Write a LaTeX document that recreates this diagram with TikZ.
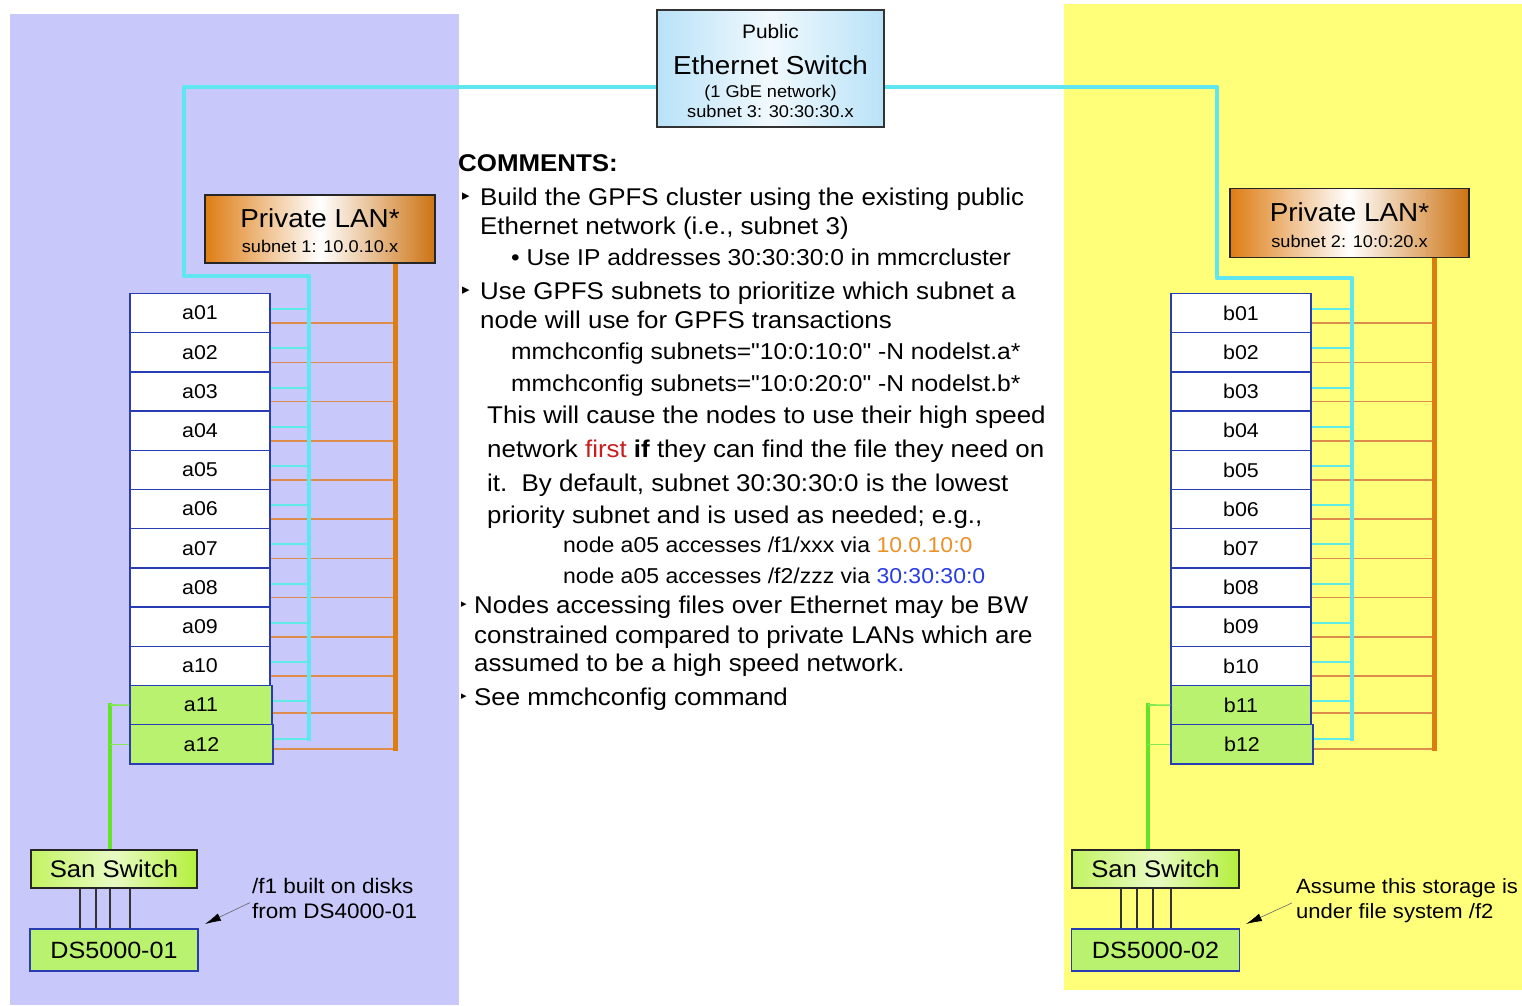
\documentclass[tikz,border=0pt]{standalone}
\usepackage{fontspec}
\setmainfont[FakeStretch=1.07]{Liberation Sans}
\newfontfamily\qfont[FakeStretch=1.07, Ligatures=TeXOff]{Liberation Sans}
\newfontfamily\symfont{DejaVu Sans}
\usetikzlibrary{arrows.meta}
\newcommand{\fsz}[1]{\fontsize{#1}{#1}\selectfont}
\newcommand{\dq}{{\qfont\symbol{34}}}
\definecolor{lav}{RGB}{200,200,250}
\definecolor{yel}{RGB}{255,255,122}
\definecolor{cyb}{RGB}{95,230,240}
\definecolor{cyt}{RGB}{95,235,230}
\definecolor{orb}{RGB}{222,125,15}
\definecolor{ort}{RGB}{222,140,75}
\definecolor{grb}{RGB}{100,228,40}
\definecolor{nodeblue}{RGB}{40,60,180}
\definecolor{lgreen}{RGB}{185,242,110}
\definecolor{pubblue}{RGB}{185,226,248}
\definecolor{lanor}{RGB}{222,125,20}
\definecolor{sangreen}{RGB}{180,240,60}
\definecolor{txtred}{RGB}{200,30,30}
\definecolor{txtor}{RGB}{235,145,40}
\definecolor{txtblue}{RGB}{40,60,225}
\begin{document}
\begin{tikzpicture}[x=1pt,y=-1pt,
  nodebox/.style={draw=nodeblue, line width=1.3pt, fill=white, minimum width=140pt, minimum height=39.2pt, inner sep=0, font=\fsz{20}},
  gnodebox/.style={nodebox, fill=lgreen},
  pubbox/.style={draw=black!80, line width=1.4pt, left color=pubblue, right color=pubblue, middle color=white!80!pubblue, inner sep=0},
  lanbox/.style={draw=black!85, line width=1.4pt, left color=lanor, right color=lanor!92!black, middle color=white, inner sep=0},
  sanbox/.style={draw=black!85, line width=1.4pt, left color=sangreen!80!white, right color=sangreen, middle color=white!70!sangreen, inner sep=0, font=\fsz{24}},
  dsbox/.style={draw=nodeblue, line width=1.3pt, fill=lgreen, inner sep=0, font=\fsz{23.5}},
  cyanbus/.style={draw=cyb, line width=4.5pt, line join=round},
  orangebus/.style={draw=orb, line width=5pt},
  cyanthin/.style={draw=cyt, line width=2pt},
  orangethin/.style={draw=ort, line width=1.6pt},
  greenbus/.style={draw=grb, line width=4pt},
  greenthin/.style={draw=grb!80!white, line width=1.6pt},
  sanline/.style={draw=black!80, line width=1.6pt},
  annarrow/.style={draw=black!60, line width=0.6pt, -{Latex[length=16pt,width=8pt,color=black]}},
  ctext/.style={anchor=base west, inner sep=0, font=\fsz{24.2}},
  itext/.style={anchor=base west, inner sep=0, font=\fsz{23}},
  stext/.style={anchor=base west, inner sep=0, font=\fsz{21.5}},
  anntext/.style={anchor=base west, inner sep=0, font=\fsz{21}},
  btext/.style={anchor=base, inner sep=0},
  bul/.style={inner sep=0, font=\symfont\fsz{15}}
]
\useasboundingbox (0,0) rectangle (1522,1005);
\fill[lav] (10,14) rectangle (459,1005);
\fill[yel] (1064,4) rectangle (1522,990);

% coordinates of bus ends
\coordinate (cL) at (309,741);
\coordinate (oL) at (395,751);
\coordinate (cR) at (1352,741);
\coordinate (oR) at (1434,751);
\coordinate (gL) at (110,705);
\coordinate (gR) at (1148,705);

% public switch
\node[pubbox, minimum width=227pt, minimum height=117pt] (pub) at (770.5,68.5) {};
\node[btext, font=\fsz{19.5}] (pub1) at (770.5,38) {Public};
\node[btext, font=\fsz{26}] (pub2) at (770.5,74) {Ethernet Switch};
\node[btext, font=\fsz{17}] (pub3) at (770.5,97) {(1 GbE network)};
\node[btext, font=\fsz{17}] (pub4) at (770.5,117) {subnet 3: 30:30:30.x};

% private LANs
\node[lanbox, minimum width=230pt, minimum height=68pt] (lanL) at (320,229) {};
\node[btext, font=\fsz{26}] (lanL1) at (320,227) {Private LAN*};
\node[btext, font=\fsz{17}] (lanL2) at (320,252) {subnet 1: 10.0.10.x};
\node[lanbox, minimum width=239pt, minimum height=69pt] (lanR) at (1349.5,223) {};
\node[btext, font=\fsz{26}] (lanR1) at (1349.5,221) {Private LAN*};
\node[btext, font=\fsz{17}] (lanR2) at (1349.5,247) {subnet 2: 10:0:20.x};

% cluster nodes
\foreach \i [count=\k from 0] in {01,02,03,04,05,06,07,08,09,10}{
  \node[nodebox] (a\i) at (200,313.1+39.2*\k) {a\i};
  \node[nodebox] (b\i) at (1241,313.1+39.2*\k) {b\i};
}
\node[gnodebox, minimum width=142pt] (a11) at (201,705.1) {a11};
\node[gnodebox, minimum width=143pt] (a12) at (201.5,744.3) {a12};
\node[gnodebox] (b11) at (1241,705.1) {b11};
\node[gnodebox, minimum width=142pt] (b12) at (1242,744.3) {b12};

% thin drops
\foreach \i/\c/\o in {01/4/10,02/4/10,03/4/10,04/4/10,05/4/10,06/4/10,07/4/10,08/4/10,09/4/10,10/4/10,11/4/8,12/5/4.5}{
  \draw[cyanthin] ([yshift=\c pt]a\i.east) -- ([yshift=\c pt]a\i.east -| cL);
  \draw[orangethin] ([yshift=-\o pt]a\i.east) -- ([yshift=-\o pt]a\i.east -| oL);
  \draw[cyanthin] ([yshift=\c pt]b\i.east) -- ([yshift=\c pt]b\i.east -| cR);
  \draw[orangethin] ([yshift=-\o pt]b\i.east) -- ([yshift=-\o pt]b\i.east -| oR);
}

% buses
\draw[cyanbus] ([yshift=-18.5pt]pub.west) -| (184,276) -| (cL);
\draw[cyanbus] ([yshift=-18.5pt]pub.east) -| (1217,278) -| (cR);
\draw[orangebus] (lanL.south -| oL) -- (oL);
\draw[orangebus] (lanR.south -| oR) -- (oR);

% SAN
\node[sanbox, minimum width=166pt, minimum height=38pt] (ssL) at (114,869) {San Switch};
\node[dsbox, minimum width=168pt, minimum height=42pt] (dsL) at (114,950) {DS5000-01};
\node[sanbox, minimum width=167pt, minimum height=38pt] (ssR) at (1155.5,869) {San Switch};
\node[dsbox, minimum width=168pt, minimum height=42pt] (dsR) at (1155.5,950) {DS5000-02};
\foreach \d in {-34,-18,-4,16}{
  \draw[sanline] ([xshift=\d pt]ssL.south) -- ([xshift=\d pt]dsL.north);
}
\foreach \d in {-34.5,-18.5,-2.5,15.5}{
  \draw[sanline] ([xshift=\d pt]ssR.south) -- ([xshift=\d pt]dsR.north);
}
\draw[greenbus] (ssL.north -| gL) -- ([yshift=2pt]gL);
\draw[greenthin] (gL) -- (a11.west);
\draw[greenthin] (a12.west -| gL) -- (a12.west);
\draw[greenbus] (ssR.north -| gR) -- ([yshift=2pt]gR);
\draw[greenthin] (gR) -- (b11.west);
\draw[greenthin] (b12.west -| gR) -- (b12.west);

% annotations
\node[anntext] (annL1) at (252,893) {/f1 built on disks};
\node[anntext] (annL2) at (252,918) {from DS4000-01};
\coordinate (tipL) at (205,924);
\draw[annarrow] ([xshift=-2pt]annL2.north west) -- (tipL);
\node[anntext, font=\fsz{20.6}] (annR1) at (1296,893) {Assume this storage is};
\node[anntext, font=\fsz{20.6}] (annR2) at (1296,918) {under file system /f2};
\coordinate (tipR) at (1246,924);
\draw[annarrow] ([xshift=-4pt]annR2.north west) -- (tipR);

% comments
\node[ctext, font=\fsz{24.2}\bfseries] (c0) at (458,171) {COMMENTS:};
\node[bul] (bu1) at (466,197) {▸};
\node[ctext] (c1) at (480,205) {Build the GPFS cluster using the existing public};
\node[ctext] (c2) at (480,234) {Ethernet network (i.e., subnet 3)};
\node[itext] (c3) at (511,265) {• Use IP addresses 30:30:30:0 in mmcrcluster};
\node[bul] (bu2) at (466,291) {▸};
\node[ctext] (c4) at (480,299) {Use GPFS subnets to prioritize which subnet a};
\node[ctext] (c5) at (480,328) {node will use for GPFS transactions};
\node[itext] (c6) at (511,359) {mmchconfig subnets=\dq 10:0:10:0\dq{} -N nodelst.a*};
\node[itext] (c7) at (511,391) {mmchconfig subnets=\dq 10:0:20:0\dq{} -N nodelst.b*};
\node[ctext] (c8) at (487,423) {This will cause the nodes to use their high speed};
\node[ctext] (c9) at (487,457) {network \textcolor{txtred}{first} \textbf{if} they can find the file they need on};
\node[ctext] (c10) at (487,491) {it.\ \ By default, subnet 30:30:30:0 is the lowest};
\node[ctext] (c11) at (487,523) {priority subnet and is used as needed; e.g.,};
\node[stext] (c12) at (563,552) {node a05 accesses /f1/xxx via \textcolor{txtor}{10.0.10:0}};
\node[stext] (c13) at (563,583) {node a05 accesses /f2/zzz via \textcolor{txtblue}{30:30:30:0}};
\node[bul, font=\symfont\fsz{11}] (bu3) at (464,605) {▸};
\node[ctext] (c14) at (474,613) {Nodes accessing files over Ethernet may be BW};
\node[ctext] (c15) at (474,643) {constrained compared to private LANs which are};
\node[ctext] (c16) at (474,671) {assumed to be a high speed network.};
\node[bul, font=\symfont\fsz{11}] (bu4) at (464,697) {▸};
\node[ctext] (c17) at (474,705) {See mmchconfig command};
\end{tikzpicture}
\end{document}
